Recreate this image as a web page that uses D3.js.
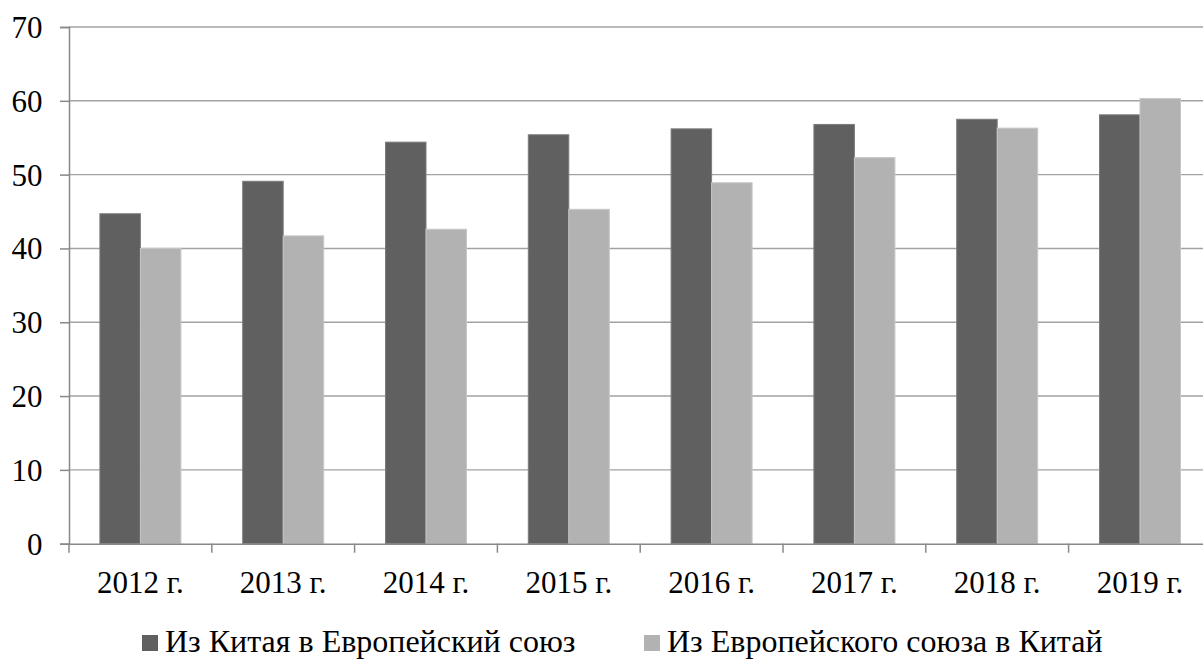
<!DOCTYPE html>
<html>
<head>
<meta charset="utf-8">
<script src="https://cdn.jsdelivr.net/npm/d3@7"></script>
<style>
  html, body { margin: 0; padding: 0; background: #ffffff; overflow: hidden; }
  svg { display: block; }
</style>
</head>
<body>
<svg id="chart" width="1203" height="659"></svg>
<script>
// Years on the category axis
const years = ["2012 г.", "2013 г.", "2014 г.", "2015 г.", "2016 г.", "2017 г.", "2018 г.", "2019 г."];
// Series names
const seriesNames = ["Из Китая в Европейский союз", "Из Европейского союза в Китай"];
// Values per series
const chinaToEU = [44.7, 49.1, 54.4, 55.4, 56.2, 56.8, 57.5, 58.1];
const euToChina = [40.0, 41.7, 42.6, 45.3, 48.9, 52.3, 56.3, 60.3];
// Value axis ticks
const yTicks = [0, 10, 20, 30, 40, 50, 60, 70];

const colors = ["#606060", "#b2b2b2"];
const strokes = ["#7c7c7c", "#c6c6c6"];
const serif = '"Liberation Serif", "Times New Roman", Tinos, serif';
const fontSize = 31;
const legendFontSize = 32;

const svg = d3.select("#chart");
const plot = { left: 69, top: 27, bottom: 543.7, right: 69 + 8 * 142.8 };

const x = d3.scaleBand().domain(years).range([plot.left, plot.right]).paddingInner(0).paddingOuter(0);
const xs = d3.scaleBand().domain([0, 1]).range([0, x.bandwidth()]).paddingInner(0).paddingOuter(0.763);
const y = d3.scaleLinear().domain([0, 70]).range([plot.bottom, plot.top]);

// Horizontal gridlines
svg.append("g")
  .selectAll("line")
  .data(yTicks.filter(d => d > 0))
  .join("line")
  .attr("x1", plot.left).attr("x2", plot.right)
  .attr("y1", d => y(d)).attr("y2", d => y(d))
  .attr("stroke", "#a2a2a2").attr("stroke-width", 1.4);

// Bars
const data = years.map((yr, i) => ({ yr, vals: [chinaToEU[i], euToChina[i]] }));
const groups = svg.append("g").selectAll("g")
  .data(data).join("g")
  .attr("transform", d => `translate(${x(d.yr)},0)`);
groups.selectAll("rect")
  .data(d => d.vals.map((v, s) => ({ v, s })))
  .join("rect")
  .attr("x", d => xs(d.s))
  .attr("width", xs.bandwidth())
  .attr("y", d => y(d.v))
  .attr("height", d => y(0) - y(d.v))
  .attr("fill", d => colors[d.s])
  .attr("stroke", d => strokes[d.s])
  .attr("stroke-width", 1);

// Y axis
const yAxis = svg.append("g")
  .attr("transform", `translate(${plot.left},0)`)
  .call(d3.axisLeft(y).tickValues(yTicks).tickSize(9).tickPadding(17.5).tickFormat(d3.format("d")));
yAxis.select(".domain").attr("stroke", "#888").attr("stroke-width", 1.5);
yAxis.selectAll(".tick line").attr("stroke", "#888").attr("stroke-width", 1.5);
yAxis.selectAll(".tick text")
  .style("font-family", serif).style("font-size", fontSize + "px")
  .attr("fill", "#000").attr("dy", "0.34em");

// X axis
const xAxis = svg.append("g")
  .attr("transform", `translate(0,${plot.bottom})`)
  .call(d3.axisBottom(x).tickSize(0).tickPadding(27.5));
xAxis.select(".domain").attr("stroke", "#888").attr("stroke-width", 1.5);
xAxis.selectAll(".tick text")
  .style("font-family", serif).style("font-size", fontSize + "px")
  .attr("fill", "#000");
// Category boundary ticks
svg.append("g").selectAll("line")
  .data(d3.range(years.length + 1))
  .join("line")
  .attr("x1", i => plot.left + i * x.step()).attr("x2", i => plot.left + i * x.step())
  .attr("y1", plot.bottom).attr("y2", plot.bottom + 9)
  .attr("stroke", "#888").attr("stroke-width", 1.5);

// Legend
const legendX = [142, 644];
const legend = svg.append("g").selectAll("g")
  .data(seriesNames).join("g")
  .attr("transform", (d, i) => `translate(${legendX[i]},0)`);
legend.append("rect")
  .attr("x", 0).attr("y", 635).attr("width", 16).attr("height", 16)
  .attr("fill", (d, i) => colors[i]);
legend.append("text")
  .attr("x", 23).attr("y", 652)
  .style("font-family", serif).style("font-size", legendFontSize + "px")
  .attr("fill", "#000")
  .text(d => d);
</script>
</body>
</html>
